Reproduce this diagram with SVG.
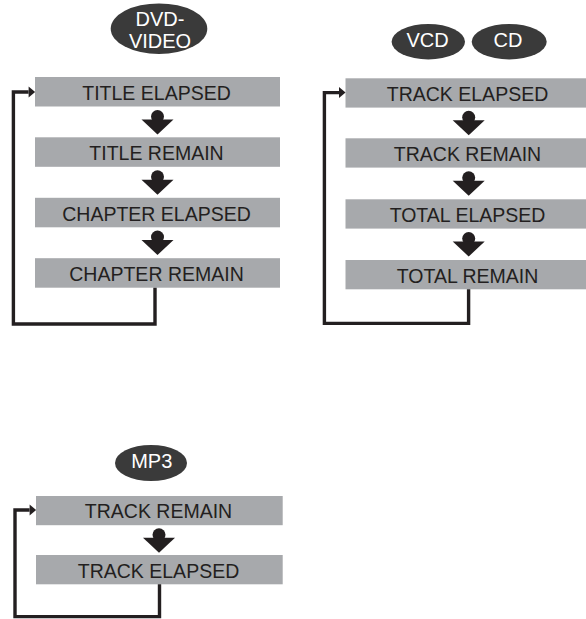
<svg xmlns="http://www.w3.org/2000/svg" width="586" height="619" viewBox="0 0 586 619">
<style>
.box{fill:#a7a9ac}
.lbl{font-family:"Liberation Sans",Arial,sans-serif;font-size:19.5px;fill:#231f20;text-anchor:middle}
.disc{fill:#3a3a3a}
.dl{font-family:"Liberation Sans",Arial,sans-serif;font-size:20px;fill:#ffffff;text-anchor:middle}
.loop{fill:none;stroke:#231f20;stroke-width:3.4;stroke-linejoin:miter}
.dn{fill:#231f20}
</style>
<defs>
<marker id="ah" markerUnits="userSpaceOnUse" markerWidth="7" markerHeight="12" refX="0" refY="5.5" orient="auto" overflow="visible">
<path d="M0,0 L6.5,5.5 L0,11 z" fill="#231f20"/>
</marker>
<g id="down"><circle cx="0" cy="6.5" r="6.5"/><path d="M-16,9.5 L16,9.5 L0,24.5 z"/></g>
</defs>

<g id="disc-dvd"><ellipse class="disc" cx="159" cy="28.7" rx="48.3" ry="25.3"/><text class="dl" x="160" y="26" font-size="21">DVD-</text><text class="dl" x="160" y="48.3" font-size="21">VIDEO</text></g>
<g id="disc-vcd"><ellipse class="disc" cx="428.3" cy="41.7" rx="36.7" ry="17.7"/><text class="dl" x="427.5" y="46.8">VCD</text></g>
<g id="disc-cd"><ellipse class="disc" cx="509.2" cy="41.7" rx="37.5" ry="17.7"/><text class="dl" x="508" y="46.8">CD</text></g>
<g id="disc-mp3"><ellipse class="disc" cx="151" cy="463" rx="36" ry="18"/><text class="dl" x="151.7" y="468.3">MP3</text></g>

<g id="n-title-elapsed"><rect class="box" x="35" y="77" width="245" height="29.5"/><text class="lbl" x="156.5" y="100">TITLE ELAPSED</text></g>
<g id="n-title-remain"><rect class="box" x="35" y="137.3" width="245" height="29.5"/><text class="lbl" x="156.5" y="160.2">TITLE REMAIN</text></g>
<g id="n-chapter-elapsed"><rect class="box" x="35" y="197.8" width="245" height="29.5"/><text class="lbl" x="156.5" y="220.6">CHAPTER ELAPSED</text></g>
<g id="n-chapter-remain"><rect class="box" x="35" y="258.2" width="245" height="29.5"/><text class="lbl" x="156.5" y="281">CHAPTER REMAIN</text></g>

<g id="n-track-elapsed"><rect class="box" x="345.5" y="78.3" width="245" height="29.3"/><text class="lbl" x="467.5" y="101">TRACK ELAPSED</text></g>
<g id="n-track-remain"><rect class="box" x="345.5" y="138.3" width="245" height="29.3"/><text class="lbl" x="467.5" y="161">TRACK REMAIN</text></g>
<g id="n-total-elapsed"><rect class="box" x="345.5" y="199.3" width="245" height="29.3"/><text class="lbl" x="467.5" y="222">TOTAL ELAPSED</text></g>
<g id="n-total-remain"><rect class="box" x="345.5" y="260" width="245" height="29.3"/><text class="lbl" x="467.5" y="282.7">TOTAL REMAIN</text></g>

<g id="n-mp3-track-remain"><rect class="box" x="36" y="496" width="246.7" height="29.2"/><text class="lbl" x="158.5" y="518.2">TRACK REMAIN</text></g>
<g id="n-mp3-track-elapsed"><rect class="box" x="36" y="555" width="246.7" height="29.3"/><text class="lbl" x="158.5" y="577.5">TRACK ELAPSED</text></g>

<g id="connectors">
<g class="dn">
<use href="#down" x="157.5" y="110"/>
<use href="#down" x="157.5" y="170.3"/>
<use href="#down" x="157.5" y="230.6"/>
<use href="#down" x="468.7" y="110.8"/>
<use href="#down" x="468.7" y="171.3"/>
<use href="#down" x="468.7" y="232"/>
<use href="#down" x="159" y="528.3"/>
</g>
<path class="loop" d="M155,287.7 V324 H13.4 V92 H28.6" marker-end="url(#ah)"/>
<path class="loop" d="M468.6,289.3 V323.4 H324.4 V92.6 H339" marker-end="url(#ah)"/>
<path class="loop" d="M159.5,584.3 V616.6 H15 V510 H29.6" marker-end="url(#ah)"/>
</g>
</svg>
